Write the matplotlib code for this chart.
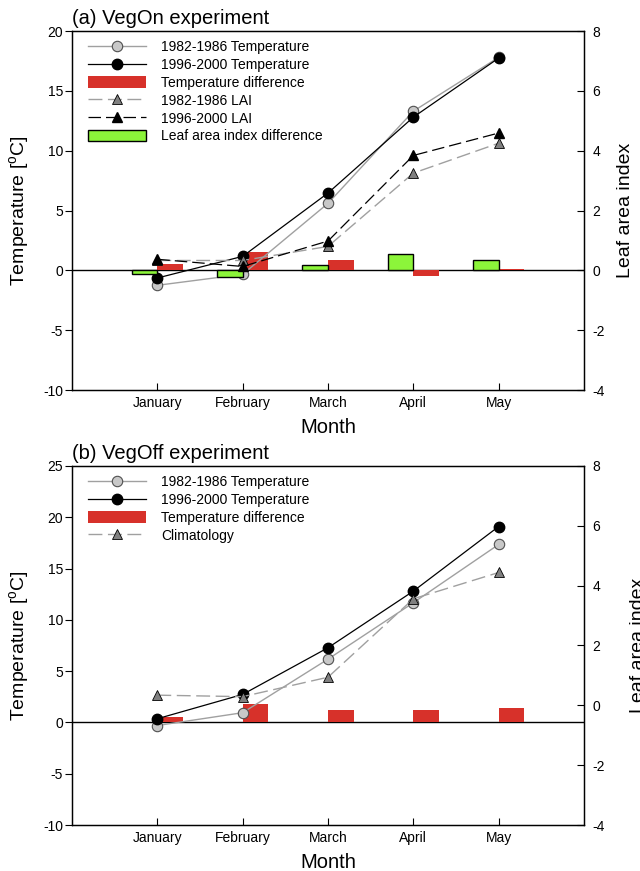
import numpy as np
import matplotlib.pyplot as plt
from matplotlib.patches import Patch
from matplotlib.lines import Line2D

plt.rcParams['font.family'] = ['Liberation Sans', 'DejaVu Sans']
plt.rcParams['mathtext.fontset'] = 'custom'
plt.rcParams['mathtext.rm'] = 'Liberation Sans'
plt.rcParams['axes.linewidth'] = 0.9
plt.rcParams['axes.unicode_minus'] = False

months = ['January', 'February', 'March', 'April', 'May']
x = np.arange(1, 6)

# (a) VegOn experiment
on_temp_early = [-1.25, -0.33, 5.6, 13.3, 17.8]
on_temp_late = [-0.64, 1.17, 6.46, 12.8, 17.74]
on_temp_diff = [0.5, 1.5, 0.9, -0.5, 0.1]
on_lai_early = [0.33, 0.33, 0.8, 3.25, 4.25]
on_lai_late = [0.37, 0.13, 0.98, 3.84, 4.59]
on_lai_diff = [-0.11, -0.22, 0.18, 0.56, 0.33]

# (b) VegOff experiment
off_temp_early = [-0.3, 0.95, 6.17, 11.67, 17.35]
off_temp_late = [0.36, 2.73, 7.28, 12.8, 19.1]
off_temp_diff = [0.5, 1.82, 1.17, 1.24, 1.37]
off_clim = [0.34, 0.29, 0.94, 3.56, 4.44]

red = '#d7312a'
green = '#8cf53a'
grey_line = '#a0a0a0'
dash = (0, (10, 4))

fig = plt.figure(figsize=(6.4, 8.71), dpi=100)

def style_axes(ax, ax2, ylim, yticks):
    ax.set_xlim(0, 6)
    ax.set_ylim(*ylim)
    ax.set_yticks(yticks)
    ax.set_xticks(x)
    ax.set_xticklabels(months)
    ax.tick_params(axis='x', direction='in', length=5, pad=4, labelsize=10)
    ax.tick_params(axis='y', direction='out', length=5, pad=1.5, labelsize=10)
    ax.axhline(0, color='k', lw=1, zorder=1)
    ax.set_xlabel('Month', fontsize=14.5, labelpad=6)
    ax.set_ylabel(r'Temperature [$^{\mathrm{o}}$C]', fontsize=14, labelpad=8)
    ax2.set_ylim(-4, 8)
    ax2.set_yticks(np.arange(-4, 9, 2))
    ax2.tick_params(axis='y', direction='in', length=5, pad=6, labelsize=10)

def temp_lines(ax, early, late):
    ax.plot(x, early, '-', color=grey_line, lw=1, marker='o', ms=7.5,
            mfc='#c8c8c8', mec='#505050', mew=0.8, zorder=4)
    ax.plot(x, late, '-', color='k', lw=0.9, marker='o', ms=7.5,
            mfc='k', mec='k', zorder=5)

legend_kw = dict(loc='upper left', frameon=False, fontsize=10, borderpad=0,
                 borderaxespad=0, labelspacing=0.28, handlelength=4.2,
                 handletextpad=1.1, handleheight=0.9)

h_early = Line2D([], [], color=grey_line, lw=1, marker='o', ms=7.5,
                 mfc='#c8c8c8', mec='#505050', mew=0.8)
h_late = Line2D([], [], color='k', lw=0.9, marker='o', ms=7.5, mfc='k', mec='k')
h_diff = Patch(facecolor=red, edgecolor='none')
h_lai_early = Line2D([], [], color=grey_line, lw=1, ls=dash, marker='^',
                     ms=7.5, mfc='#808080', mec='k', mew=0.6)
h_lai_late = Line2D([], [], color='k', lw=0.9, ls=dash, marker='^',
                    ms=7.5, mfc='k', mec='k')
h_lai_diff = Patch(facecolor=green, edgecolor='k', lw=1)

# ---- panel (a)
ax = fig.add_axes([0.1125, 0.5522, 0.8, 0.4122])
ax2 = ax.twinx()
ax.bar(x, on_temp_diff, width=0.3, align='edge', color=red, zorder=2)
temp_lines(ax, on_temp_early, on_temp_late)
ax2.bar(x, on_lai_diff, width=-0.3, align='edge', color=green, edgecolor='k',
        lw=1, zorder=2)
ax2.plot(x, on_lai_early, color=grey_line, lw=1, ls=dash, marker='^',
         ms=7.5, mfc='#808080', mec='k', mew=0.6, zorder=4)
ax2.plot(x, on_lai_late, color='k', lw=0.9, ls=dash, marker='^',
         ms=7.5, mfc='k', mec='k', zorder=5)
style_axes(ax, ax2, (-10, 20), np.arange(-10, 21, 5))
ax2.set_ylabel('Leaf area index', fontsize=14, labelpad=9)
ax.set_title('(a) VegOn experiment', loc='left', fontsize=14.5, pad=5)
ax2.legend([h_early, h_late, h_diff, h_lai_early, h_lai_late, h_lai_diff],
           ['1982-1986 Temperature', '1996-2000 Temperature', 'Temperature difference',
            '1982-1986 LAI', '1996-2000 LAI', 'Leaf area index difference'],
           bbox_to_anchor=(0.031, 0.975), **legend_kw)

# ---- panel (b)
ax = fig.add_axes([0.1125, 0.0528, 0.8, 0.4122])
ax2 = ax.twinx()
ax.bar(x, off_temp_diff, width=0.3, align='edge', color=red, zorder=2)
temp_lines(ax, off_temp_early, off_temp_late)
ax2.plot(x, off_clim, color=grey_line, lw=1, ls=dash, marker='^',
         ms=7.5, mfc='#808080', mec='k', mew=0.6, zorder=4)
style_axes(ax, ax2, (-10, 25), np.arange(-10, 26, 5))
ax2.set_ylabel('Leaf area index', fontsize=14, labelpad=18)
ax.set_title('(b) VegOff experiment', loc='left', fontsize=14.5, pad=5)
ax2.legend([h_early, h_late, h_diff, h_lai_early],
           ['1982-1986 Temperature', '1996-2000 Temperature', 'Temperature difference',
            'Climatology'],
           bbox_to_anchor=(0.031, 0.975), **legend_kw)

fig.savefig('out.png', dpi=100)
